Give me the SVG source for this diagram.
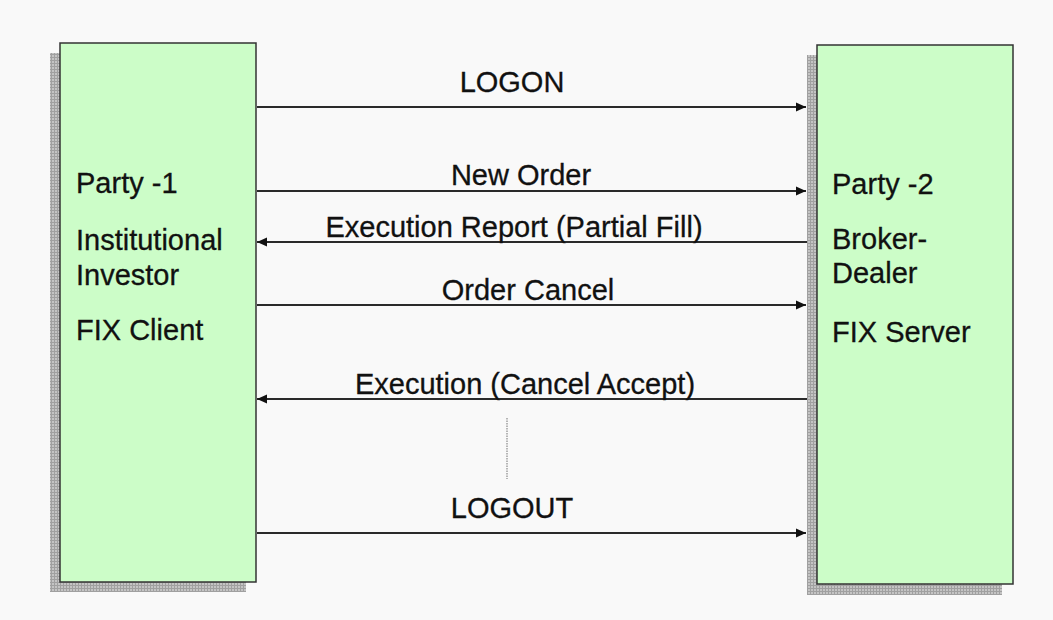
<svg xmlns="http://www.w3.org/2000/svg" width="1053" height="620" viewBox="0 0 1053 620">
<defs>
<pattern id="hatch" width="3" height="3" patternUnits="userSpaceOnUse">
<rect width="3" height="3" fill="#c4c4c4"/>
<path d="M0 0.5H3M0.5 0V3" stroke="#a0a0a0" stroke-width="1"/>
</pattern>
<marker id="arr" viewBox="0 0 10 10" refX="10" refY="5" markerWidth="10" markerHeight="10" markerUnits="userSpaceOnUse" orient="auto">
<path d="M0 0.5L10 5L0 9.5z" fill="#111"/>
</marker>
</defs>
<style>
.box{fill:#ccfdc8;stroke:#333;stroke-width:1.5}
.shadow{fill:url(#hatch)}
.t{font-family:"Liberation Sans",Arial,sans-serif;font-size:29px;fill:#111;stroke:#111;stroke-width:0.3}
.m{text-anchor:middle}
.ln{stroke:#2a2a2a;stroke-width:2.2;fill:none;marker-end:url(#arr)}
</style>
<rect width="1053" height="620" fill="#f9f9f9"/>
<g id="party1">
<rect class="shadow" x="50" y="53" width="196" height="539"/>
<rect class="box" x="60" y="43" width="196" height="539"/>
<text class="t" x="76" y="193">Party -1</text>
<text class="t" x="76" y="250">Institutional</text>
<text class="t" x="76" y="285">Investor</text>
<text class="t" x="76" y="340">FIX Client</text>
</g>
<g id="party2">
<rect class="shadow" x="807" y="55" width="195" height="540"/>
<rect class="box" x="817" y="45" width="196" height="539"/>
<text class="t" x="832" y="194">Party -2</text>
<text class="t" x="832" y="249">Broker-</text>
<text class="t" x="832" y="283">Dealer</text>
<text class="t" x="832" y="342">FIX Server</text>
</g>
<g id="connectors">
<line class="ln" x1="257" y1="107" x2="806" y2="107"/>
<line class="ln" x1="257" y1="191" x2="806" y2="191"/>
<line class="ln" x1="807" y1="242" x2="257" y2="242"/>
<line class="ln" x1="257" y1="305" x2="806" y2="305"/>
<line class="ln" x1="807" y1="399" x2="257" y2="399"/>
<line class="ln" x1="257" y1="533" x2="806" y2="533"/>
<line x1="507" y1="418" x2="507" y2="479" stroke="#888" stroke-width="1.2" stroke-dasharray="1.5 1"/>
<text class="t m" x="512" y="92">LOGON</text>
<text class="t m" x="521" y="185">New Order</text>
<text class="t m" x="514" y="237">Execution Report (Partial Fill)</text>
<text class="t m" x="528" y="300">Order Cancel</text>
<text class="t m" x="525" y="394">Execution (Cancel Accept)</text>
<text class="t m" x="512" y="518">LOGOUT</text>
</g>
</svg>
